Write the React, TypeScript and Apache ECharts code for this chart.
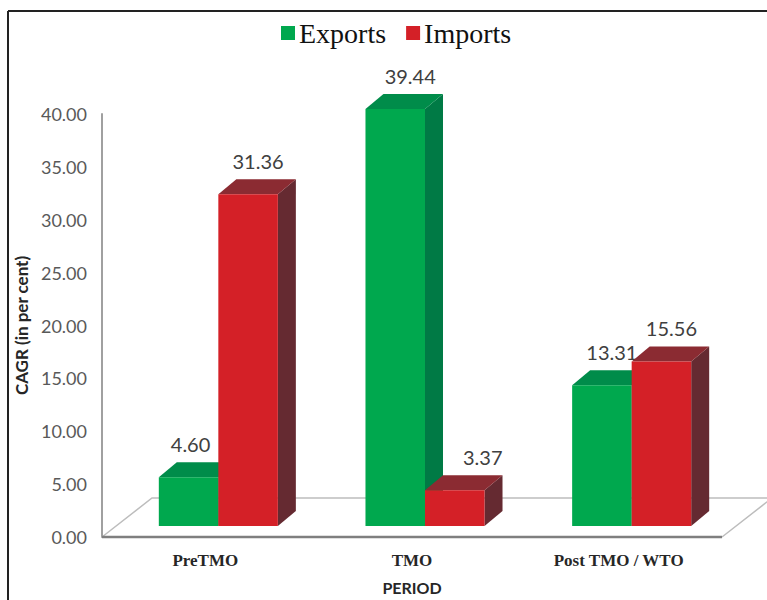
import React, { useEffect, useRef } from "react";
import * as echarts from "echarts";

const categories = ["PreTMO", "TMO", "Post TMO / WTO"];
const exportsCagr = [4.6, 39.44, 13.31];
const importsCagr = [31.36, 3.37, 15.56];
const seriesNames = ["Exports", "Imports"];
const yTicks = { min: 0, max: 40, interval: 5 };

const PALETTE = [
  { front: "#00A84E", side: "#007A45", top: "#008C4A" },
  { front: "#D42027", side: "#652A31", top: "#8B2B32" },
];

const BAR_FRAC = 0.288;
const DEPTH_X = 18;
const DEPTH_Y = -15;
const FRONT_DX = 13;
const FRONT_DY = -11;
const FLOOR_DX = 50;
const FLOOR_DY = -39;
// horizontal label nudges (style), per series per category
const LABEL_NUDGE = [
  [-8, 5, 0],
  [0, 18, 0],
];

function barRender(sIdx: number) {
  const col = PALETTE[sIdx];
  return (params: any, api: any) => {
    const cat = api.value(0);
    const val = api.value(1);
    const band = api.size([1, 0])[0];
    const w = band * BAR_FRAC;
    const base = api.coord([cat, 0]);
    const topP = api.coord([cat, val]);
    const x0 = base[0] + FRONT_DX - w + sIdx * w;
    const x1 = x0 + w;
    const yb = base[1] + FRONT_DY;
    const yt = topP[1] + FRONT_DY;
    return {
      type: "group",
      children: [
        {
          type: "polygon",
          shape: { points: [[x1, yb], [x1 + DEPTH_X, yb + DEPTH_Y], [x1 + DEPTH_X, yt + DEPTH_Y], [x1, yt]] },
          style: { fill: col.side },
        },
        {
          type: "polygon",
          shape: { points: [[x0, yt], [x0 + DEPTH_X, yt + DEPTH_Y], [x1 + DEPTH_X, yt + DEPTH_Y], [x1, yt]] },
          style: { fill: col.top },
        },
        {
          type: "rect",
          shape: { x: x0, y: yt, width: w, height: yb - yt },
          style: { fill: col.front },
        },
        {
          type: "text",
          style: {
            text: Number(val).toFixed(2),
            x: (x0 + x1) / 2 + 10 + LABEL_NUDGE[sIdx][params.dataIndex],
            y: yt + DEPTH_Y - 18,
            align: "center",
            verticalAlign: "middle",
            fontFamily: "Lato",
            fontSize: 20,
            fill: "#404040",
          },
        },
      ],
    };
  };
}

function floorRender(params: any, api: any) {
  const band = api.size([1, 0])[0];
  const first = api.coord([0, 0]);
  const last = api.coord([categories.length - 1, 0]);
  const xl = first[0] - band / 2;
  const xr = last[0] + band / 2;
  const y = first[1];
  return {
    type: "group",
    children: [
      {
        type: "polyline",
        shape: { points: [[xl, y], [xl + FLOOR_DX, y + FLOOR_DY], [xr + FLOOR_DX, y + FLOOR_DY], [xr, y]] },
        style: { stroke: "#BDBDBD", lineWidth: 1.5, fill: null },
      },
      {
        type: "line",
        shape: { x1: xl, y1: y, x2: xr, y2: y },
        style: { stroke: "#7F7F7F", lineWidth: 2.5 },
      },
    ],
  };
}

export default function App() {
  const ref = useRef<HTMLDivElement>(null);
  useEffect(() => {
    if (!ref.current) return;
    const chart = echarts.init(ref.current, null, { renderer: "svg" });
    chart.setOption({
      animation: false,
      backgroundColor: "#ffffff",
      legend: {
        data: seriesNames,
        left: 276,
        top: 14,
        icon: "rect",
        itemWidth: 14,
        itemHeight: 14,
        itemGap: 20,
        textStyle: { fontFamily: "Liberation Serif", fontSize: 28, color: "#111", padding: [0, 0, 0, -1] },
      },
      grid: { left: 102, top: 114, right: 45, bottom: 58, containLabel: false },
      xAxis: {
        type: "category",
        data: categories,
        name: "PERIOD",
        nameLocation: "middle",
        nameGap: 42,
        nameTextStyle: { fontFamily: "Lato", fontWeight: "bold", fontSize: 16, color: "#262626" },
        axisLine: { show: false },
        axisTick: { show: false },
        axisLabel: {
          margin: 15,
          fontFamily: "Liberation Serif",
          fontWeight: "bold",
          fontSize: 17,
          color: "#262626",
        },
      },
      yAxis: {
        type: "value",
        min: yTicks.min,
        max: yTicks.max,
        interval: yTicks.interval,
        name: "CAGR (in per cent)",
        nameLocation: "middle",
        nameGap: 72,
        nameTextStyle: { fontFamily: "Lato", fontWeight: "bold", fontSize: 17, color: "#262626" },
        axisLine: { show: true, lineStyle: { color: "#A0A0A0", width: 2 } },
        axisTick: { show: false },
        splitLine: { show: false },
        axisLabel: {
          margin: 15,
          fontFamily: "Lato",
          fontSize: 18,
          color: "#595959",
          formatter: (v: number) => v.toFixed(2),
        },
      },
      graphic: [
        { type: "line", shape: { x1: 8, y1: 11, x2: 767, y2: 11 }, style: { stroke: "#222", lineWidth: 2 } },
        { type: "line", shape: { x1: 8, y1: 11, x2: 8, y2: 600 }, style: { stroke: "#222", lineWidth: 2 } },
      ],
      series: [
        {
          type: "custom",
          name: "floor",
          silent: true,
          z: 1,
          renderItem: floorRender,
          data: [[0, 0]],
        },
        {
          type: "custom",
          name: seriesNames[0],
          z: 2,
          itemStyle: { color: PALETTE[0].front },
          renderItem: barRender(0),
          data: exportsCagr.map((v, i) => [i, v]),
        },
        {
          type: "custom",
          name: seriesNames[1],
          z: 3,
          itemStyle: { color: PALETTE[1].front },
          renderItem: barRender(1),
          data: importsCagr.map((v, i) => [i, v]),
        },
      ],
    });
    return () => chart.dispose();
  }, []);
  return <div ref={ref} style={{ position: "fixed", left: 0, top: 0, width: 767, height: 600 }} />;
}
